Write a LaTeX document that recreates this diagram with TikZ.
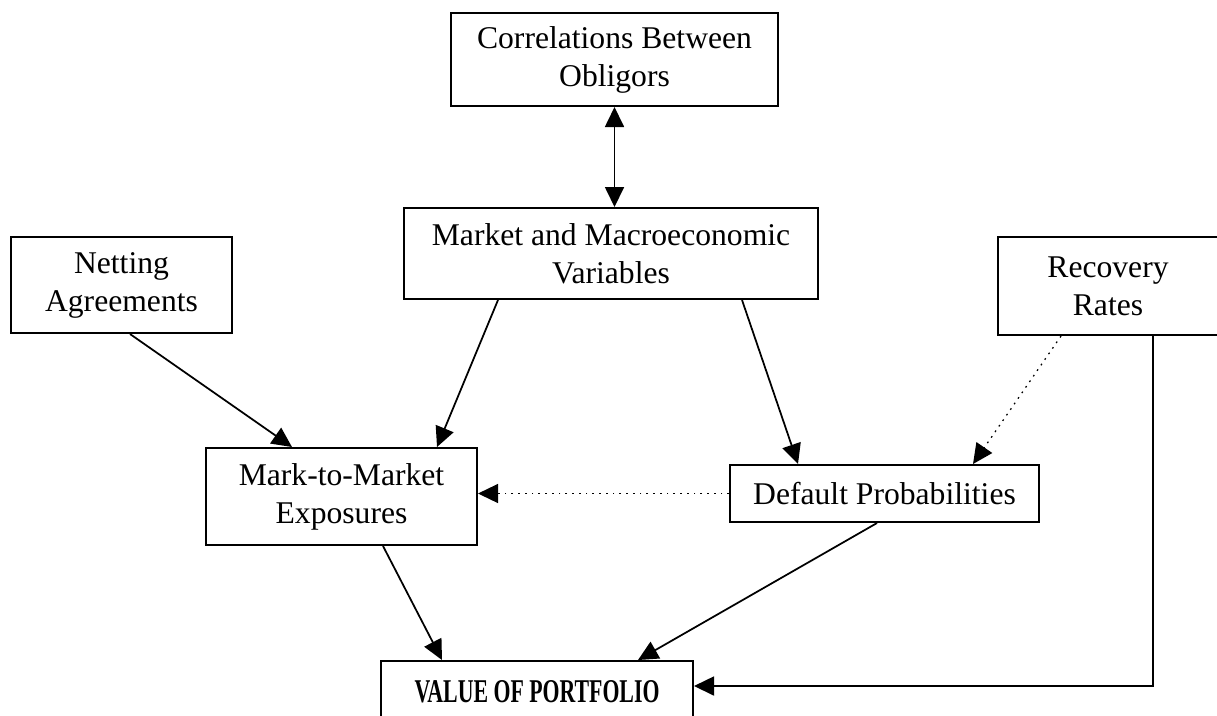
\documentclass[tikz,border=0pt]{standalone}
\usepackage{fontspec}
\setmainfont{Liberation Serif}
\usepackage{graphicx}
\usetikzlibrary{arrows.meta}

\begin{document}
\begin{tikzpicture}[x=0.4pt, y=-0.4pt,
        box/.style={draw, line width=0.8pt, inner sep=0pt, align=center, font=\fontsize{12.65}{15.2}\selectfont},
        tip/.tip={Triangle[length=8pt, width=7.6pt]},
        arr/.style={-tip, line width=0.7pt},
        dots/.style={arr, dotted, line width=0.5pt}]
            \useasboundingbox (0,0) rectangle (1217,715);

            % Nodes
            \node[box, minimum width=130.8pt, minimum height=37.2pt] (corr) at (614.5, 59.5) {Correlations Between\\Obligors};
            \node[box, minimum width=165.6pt, minimum height=36.4pt] (mkt) at (611, 253.5) {Market and Macroeconomic\\Variables};
            \node[box, minimum width=88.4pt, minimum height=38.4pt] (net) at (121.5, 285) {Netting\\Agreements};
            \node[box, minimum width=88pt, minimum height=39.2pt] (rec) at (1108, 286) {Recovery\\Rates};
            \node[box, minimum width=108.4pt, minimum height=38.8pt] (mtm) at (341.5, 496.5) {Mark-to-Market\\Exposures};
            \node[box, minimum width=123.6pt, minimum height=22.8pt] (dfp) at (884.5, 493.5) {Default Probabilities};
            \node[box, minimum width=124.8pt, minimum height=24.8pt] (val) at (537, 692) {\bfseries\scalebox{0.69}[1.05]{VALUE OF PORTFOLIO}};

            % Lines
            \draw[arr, tip-tip] (corr.south) -- (corr.south |- mkt.north);
            \draw[arr] ([xshift=-45.2pt]mkt.south) -- ([xshift=38.2pt]mtm.north);
            \draw[arr] ([xshift=52.4pt]mkt.south) -- ([xshift=-34.6pt]dfp.north);
            \draw[arr] ([xshift=3.4pt]net.south) -- ([xshift=-19.8pt]mtm.north);
            \draw[dots] ([xshift=-18.8pt]rec.south) -- ([xshift=35.4pt]dfp.north);
            \draw[dots] (dfp.west) -- (dfp.west -| mtm.east);
            \draw[arr] ([xshift=16.6pt]mtm.south) -- ([xshift=-38pt]val.north);
            \draw[arr] ([xshift=-3pt]dfp.south) -- ([xshift=40.4pt]val.north);
            \draw[arr] ([xshift=18pt]rec.south) |- ([yshift=2.4pt]val.east);
        \end{tikzpicture}
\end{document}
